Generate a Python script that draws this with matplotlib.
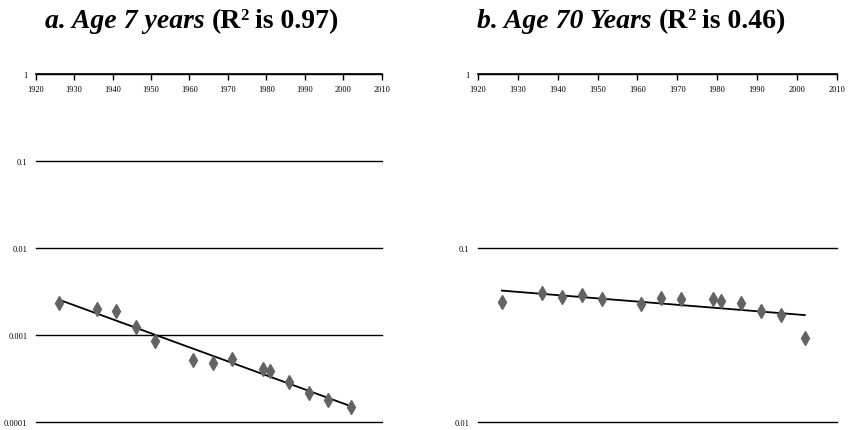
import matplotlib.pyplot as plt
import numpy as np

years = [1926, 1936, 1941, 1946, 1951, 1961, 1966, 1971, 1979, 1981, 1986, 1991, 1996, 2002]

# mortality rate at age 7
rate_age7 = [0.00233, 0.00199, 0.00189, 0.00124, 0.000846, 0.00052, 0.000472,
             0.00053, 0.00041, 0.000389, 0.000291, 0.000217, 0.000181, 0.00015]

# mortality rate at age 70
rate_age70 = [0.0489, 0.0551, 0.0523, 0.0539, 0.0509, 0.0477, 0.0516,
              0.0511, 0.0511, 0.0498, 0.0485, 0.0436, 0.0412, 0.0305]

plt.rcParams['font.family'] = 'Liberation Serif'

fig = plt.figure(figsize=(8.49, 4.31), dpi=100)
ax1 = fig.add_axes([0.0420, 0.0186, 0.4076, 0.8074])
ax2 = fig.add_axes([0.5630, 0.0186, 0.4225, 0.8074])


def draw_panel(ax, rates, ymin):
    x = np.array(years)
    y = np.array(rates)
    # exponential trend line (straight on the log axis)
    k, b = np.polyfit(x, np.log(y), 1)
    xt = np.array([x[0], x[-1]])
    ax.plot(xt, np.exp(b + k * xt), color='black', lw=1.3, zorder=2)
    ax.plot(x, y, linestyle='none', marker='d', markersize=7,
            color='#636363', markeredgecolor='#636363', zorder=3)

    ax.set_yscale('log')
    ax.set_ylim(ymin, 1)
    ax.set_xlim(1920, 2010)
    ax.set_xticks(range(1920, 2011, 10))
    ticks = [10.0 ** e for e in range(int(np.log10(ymin)), 1)]
    ax.set_yticks(ticks)
    ax.set_yticklabels(['%g' % t for t in ticks])
    ax.minorticks_off()
    ax.yaxis.grid(True, color='black', lw=1.0)
    for gl in ax.get_ygridlines():
        gl.set_clip_on(False)
    ax.set_axisbelow(True)

    for s in ['left', 'right', 'top']:
        ax.spines[s].set_visible(False)
    ax.spines['bottom'].set_position(('data', 1))
    ax.spines['bottom'].set_linewidth(1.2)
    ax.tick_params(axis='x', direction='out', length=4, width=1.0,
                   labelsize=6, pad=4)
    ax.tick_params(axis='y', length=0, labelsize=6, pad=6)


draw_panel(ax1, rate_age7, 1e-4)
draw_panel(ax2, rate_age70, 1e-2)


def title(x, y, parts):
    # write the pieces one after another so styles can be mixed
    renderer = fig.canvas.get_renderer()
    for txt, style, size, dy, gap in parts:
        t = fig.text(x + gap, y + dy, txt, fontsize=size, fontweight='bold',
                     fontstyle=style, transform=None, va='baseline')
        bb = t.get_window_extent(renderer)
        x = bb.x1


H = 431
title(45, H - 28.5, [('a. Age 7 years ', 'italic', 20, 0, 0),
                     ('(R', 'normal', 20, 0, 0),
                     ('2', 'normal', 12, 8, -1),
                     (' is 0.97)', 'normal', 20, 0, 0)])
title(477, H - 28.5, [('b. Age 70 Years ', 'italic', 20, 0, 0),
                      ('(R', 'normal', 20, 0, 0),
                      ('2', 'normal', 12, 8, -1),
                      (' is 0.46)', 'normal', 20, 0, 0)])

fig.savefig('out.png', dpi=100)
